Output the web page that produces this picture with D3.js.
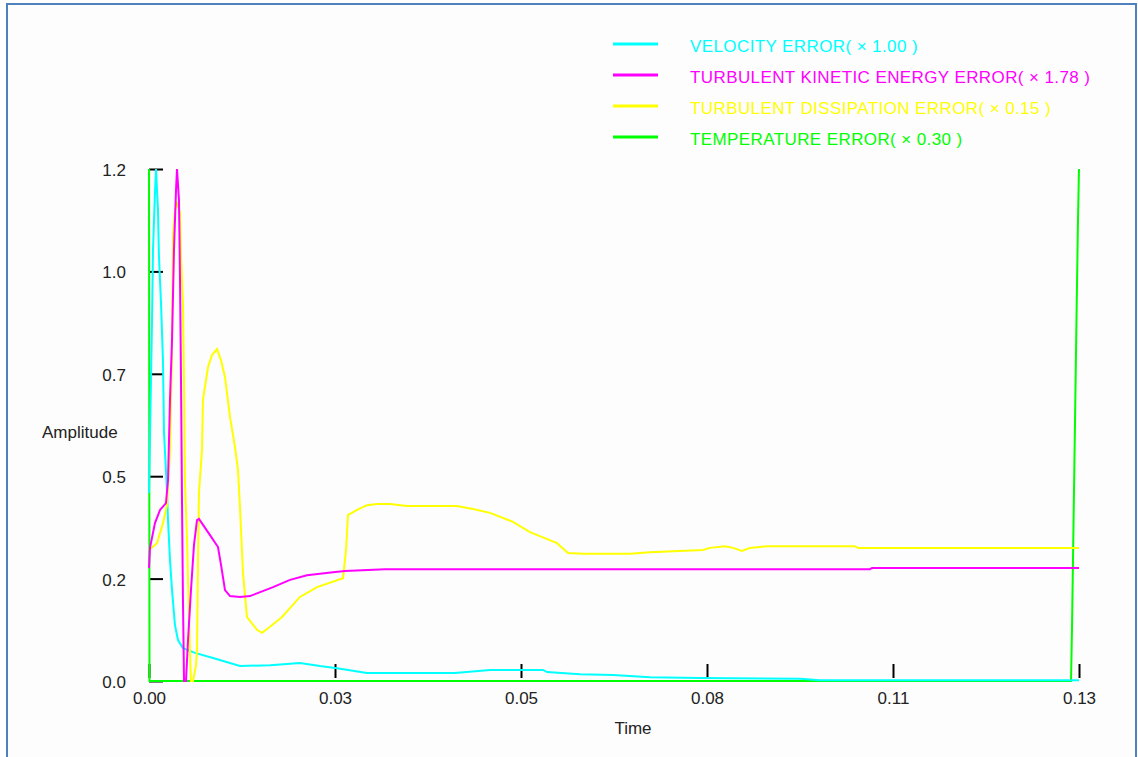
<!DOCTYPE html>
<html>
<head>
<meta charset="utf-8">
<script src="https://cdn.jsdelivr.net/npm/d3@7"></script>
<style>
  html, body { margin: 0; padding: 0; background: #ffffff; }
  svg { display: block; }
  text { font-family: "Liberation Sans", Arial, sans-serif; }
</style>
</head>
<body>
<div id="chart"></div>
<script>
// Series data: [time, amplitude]
var velocityError = [
  [0, 0.441], [0.00014, 0.565], [0.00043, 0.846], [0.00057, 1.010], [0.00085, 1.144],
  [0.00100, 1.2], [0.00128, 1.104], [0.00142, 0.994], [0.00171, 0.886], [0.00199, 0.752],
  [0.00214, 0.581], [0.00256, 0.448], [0.00271, 0.377], [0.00299, 0.284], [0.00328, 0.213],
  [0.00370, 0.131], [0.00413, 0.096], [0.00484, 0.077], [0.00655, 0.066], [0.00912, 0.054],
  [0.01296, 0.035], [0.01724, 0.037], [0.02151, 0.042], [0.02436, 0.035], [0.02678, 0.030],
  [0.03106, 0.019], [0.04360, 0.019], [0.04858, 0.026], [0.05613, 0.026], [0.05670, 0.021],
  [0.06141, 0.016], [0.06611, 0.014], [0.07138, 0.009], [0.07850, 0.007], [0.09275, 0.005],
  [0.09560, 0.002], [0.1325, 0.002]
];

var tkeError = [
  [0, 0.265], [0.00014, 0.312], [0.00085, 0.370], [0.00157, 0.401], [0.00242, 0.417],
  [0.00271, 0.471], [0.00299, 0.659], [0.00328, 0.799], [0.00356, 1.010], [0.00385, 1.151],
  [0.00399, 1.2], [0.00427, 1.127], [0.00442, 0.940], [0.00456, 0.705], [0.00470, 0.424],
  [0.00484, 0.190], [0.00499, 0], [0.00527, 0], [0.00556, 0.096], [0.00598, 0.213],
  [0.00641, 0.319], [0.00684, 0.377], [0.00712, 0.380], [0.00869, 0.342], [0.00983, 0.314],
  [0.01026, 0.272], [0.01083, 0.213], [0.01154, 0.199], [0.01296, 0.197], [0.01439, 0.199],
  [0.01767, 0.220], [0.02009, 0.237], [0.02251, 0.248], [0.02621, 0.255], [0.02792, 0.258],
  [0.03362, 0.262], [0.10272, 0.262], [0.10301, 0.265], [0.1325, 0.265]
];

var dissipationError = [
  [0, 0.307], [0.00114, 0.323], [0.00199, 0.370], [0.00256, 0.412], [0.00299, 0.541],
  [0.00328, 0.776], [0.00342, 1.041], [0.00370, 1.104], [0.00399, 1.120], [0.00442, 1.099],
  [0.00456, 0.994], [0.00484, 0.886], [0.00499, 0.698], [0.00513, 0.464], [0.00541, 0.337],
  [0.00570, 0.143], [0.00598, 0], [0.00627, 0], [0.00670, 0.037], [0.00684, 0.073],
  [0.00698, 0.284], [0.00712, 0.441], [0.00755, 0.541], [0.00769, 0.659], [0.00841, 0.736],
  [0.00898, 0.764], [0.00969, 0.778], [0.01026, 0.752], [0.01083, 0.712], [0.01154, 0.619],
  [0.01225, 0.548], [0.01268, 0.495], [0.01296, 0.408], [0.01339, 0.253], [0.01396, 0.150],
  [0.01539, 0.120], [0.01610, 0.113], [0.01724, 0.127], [0.01895, 0.150], [0.02151, 0.197],
  [0.02394, 0.220], [0.02764, 0.241], [0.02807, 0.307], [0.02835, 0.389], [0.02963, 0.401],
  [0.03106, 0.412], [0.03248, 0.415], [0.03434, 0.415], [0.03676, 0.410], [0.04388, 0.410],
  [0.04616, 0.403], [0.04858, 0.394], [0.05186, 0.373], [0.05428, 0.349], [0.05813, 0.323],
  [0.05970, 0.300], [0.06183, 0.298], [0.06853, 0.298], [0.07138, 0.302], [0.07893, 0.307],
  [0.07993, 0.312], [0.08206, 0.316], [0.08320, 0.312], [0.08448, 0.305], [0.08562, 0.312],
  [0.08805, 0.316], [0.10058, 0.316], [0.10101, 0.312], [0.1325, 0.312]
];

var temperatureError = [
  [0, 1.2], [0.00007, 0], [0.13136, 0], [0.13150, 0.120], [0.13172, 0.370],
  [0.13193, 0.605], [0.13214, 0.846], [0.13236, 1.085], [0.1325, 1.2]
];

var seriesNames = [
  "VELOCITY ERROR( \u00d7 1.00 )",
  "TURBULENT KINETIC ENERGY ERROR( \u00d7 1.78 )",
  "TURBULENT DISSIPATION ERROR( \u00d7 0.15 )",
  "TEMPERATURE ERROR( \u00d7 0.30 )"
];
var seriesColors = ["#00ffff", "#ff00ff", "#ffff00", "#00ff00"];

var xTickValues = [0, 0.0265, 0.053, 0.0795, 0.106, 0.1325];
var xTickLabels = ["0.00", "0.03", "0.05", "0.08", "0.11", "0.13"];
var yTickValues = [0, 0.24, 0.48, 0.72, 0.96, 1.2];
var yTickLabels = ["0.0", "0.2", "0.5", "0.7", "1.0", "1.2"];

var divWidth = 1138,
    divHeight = 757,
    plot = {left: 149, right: 1079, top: 169, bottom: 681},
    fontSize = 17;

var svg = d3.select("#chart")
  .append("svg")
  .attr("width", divWidth)
  .attr("height", divHeight);

// Panel background and blue frame.
svg.append("rect")
  .attr("x", 7).attr("y", 4)
  .attr("width", 1129).attr("height", 800)
  .attr("fill", "#fdfdfd")
  .attr("stroke", "#4f81bd")
  .attr("stroke-width", 2);

var xScale = d3.scaleLinear().domain([0, 0.1325]).range([plot.left, plot.right]);
var yScale = d3.scaleLinear().domain([0, 1.2]).range([plot.bottom, plot.top]);

// Y axis: ticks point inwards, labels to the left.
var yAxis = d3.axisLeft(yScale)
  .tickValues(yTickValues)
  .tickFormat((d, i) => yTickLabels[i])
  .tickSizeInner(-14)
  .tickSizeOuter(0)
  .tickPadding(23);

var gy = svg.append("g")
  .attr("transform", `translate(${plot.left},0)`)
  .call(yAxis);
gy.select(".domain").remove();
gy.selectAll("line").attr("stroke", "#000").attr("stroke-width", 2);
gy.selectAll("text")
  .attr("dy", "0.38em")
  .attr("fill", "#222")
  .style("font-size", fontSize + "px")
  .style("font-family", '"Liberation Sans", Arial, sans-serif');

// X axis: ticks point upwards, labels below.
var xAxis = d3.axisBottom(xScale)
  .tickValues(xTickValues)
  .tickFormat((d, i) => xTickLabels[i])
  .tickSizeInner(-14)
  .tickSizeOuter(0)
  .tickPadding(14);

var gx = svg.append("g")
  .attr("transform", `translate(0,${plot.bottom - 3})`)
  .call(xAxis);
gx.select(".domain").remove();
gx.selectAll("line").attr("stroke", "#000").attr("stroke-width", 2);
gx.selectAll("text")
  .attr("fill", "#222")
  .style("font-size", fontSize + "px")
  .style("font-family", '"Liberation Sans", Arial, sans-serif');

// Axis titles.
svg.append("text")
  .attr("x", 42).attr("y", 438)
  .attr("fill", "#222")
  .style("font-size", fontSize + "px")
  .text("Amplitude");

svg.append("text")
  .attr("x", (plot.left + plot.right) / 2 + 19).attr("y", 734)
  .attr("text-anchor", "middle")
  .attr("fill", "#222")
  .style("font-size", fontSize + "px")
  .text("Time");

// Lines (drawing order: temperature, velocity, dissipation, tke).
var line = d3.line()
  .x(d => xScale(d[0]))
  .y(d => yScale(d[1]));

var allSeries = [velocityError, tkeError, dissipationError, temperatureError];
var drawOrder = [3, 0, 2, 1];

svg.append("g")
  .selectAll("path")
  .data(drawOrder)
  .join("path")
    .attr("d", i => line(allSeries[i]))
    .attr("fill", "none")
    .attr("stroke", i => seriesColors[i])
    .attr("stroke-width", 2)
    .attr("stroke-linejoin", "miter");

// Legend.
var legend = svg.append("g")
  .selectAll("g")
  .data(seriesNames)
  .join("g")
    .attr("transform", (d, i) => `translate(613,${44 + i * 31})`);

legend.append("line")
  .attr("x1", 0).attr("x2", 45)
  .attr("y1", 0).attr("y2", 0)
  .attr("stroke", (d, i) => seriesColors[i])
  .attr("stroke-width", 3);

legend.append("text")
  .attr("x", 77).attr("y", 2)
  .attr("dy", "0.36em")
  .attr("fill", (d, i) => seriesColors[i])
  .style("font-size", fontSize + "px")
  .style("letter-spacing", "0.4px")
  .text(d => d);
</script>
</body>
</html>
